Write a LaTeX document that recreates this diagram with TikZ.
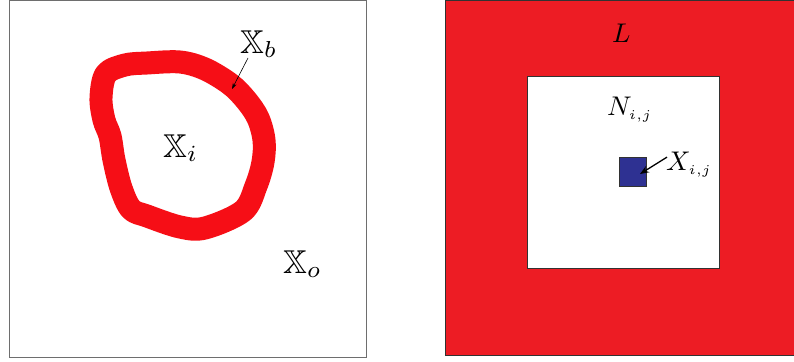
\documentclass[tikz,border=0pt]{standalone}
\usepackage{graphicx}
\usepackage{amssymb}
\usetikzlibrary{arrows.meta}
\definecolor{ringred}{RGB}{246,14,22}
\definecolor{boxred}{RGB}{237,28,36}
\definecolor{boxblue}{RGB}{46,49,146}
\definecolor{edgegray}{RGB}{110,110,110}
\definecolor{edgedark}{RGB}{50,50,50}
\tikzset{
  biglabel/.style={anchor=base west,inner sep=0pt},
  rightlabel/.style={anchor=base west,inner sep=0pt},
  thinarrow/.style={-{Stealth[length=6pt,width=4pt]},line width=0.6pt,black},
  thickarrow/.style={-{Stealth[length=9pt,width=7pt]},line width=1.3pt,black}
}
\begin{document}
\begin{tikzpicture}[x=1pt,y=-1pt]
\useasboundingbox (0,0) rectangle (794,361);
% left panel
\draw[edgegray,line width=1pt] (9.5,0.5) rectangle (366,357);
\draw[ringred,line width=23pt,line join=round]
  plot[smooth cycle,tension=0.55] coordinates{
   (101,98) (106,74) (125,65) (147,63) (180,62) (205,69) (230,84)
   (246,100) (258,118) (264,140) (263,162) (256,186) (243,211)
   (205,228) (180,227) (147,216) (131,209) (121,188) (114,160)
   (110,136) (104,120)};
\node[biglabel] (Xb) at (240,53) {\scalebox{3.3}{$\mathbb{X}_b$}};
\node[biglabel] (Xi) at (163,157) {\scalebox{3.3}{$\mathbb{X}_i$}};
\node[biglabel] (Xo) at (283,273) {\scalebox{3.3}{$\mathbb{X}_o$}};
\coordinate (ringpt) at (232,89);
\draw[thinarrow] (248,58) -- (ringpt);
% right panel
\fill[boxred] (445,0) rectangle (794,356);
\draw[edgedark,line width=1.2pt] (794,0.6) -- (445.6,0.6) -- (445.6,355.6) -- (794,355.6);
\node[draw=edgedark,fill=white,line width=1.2pt,minimum width=192pt,minimum height=192pt,inner sep=0pt] (N) at (623.3,172.3) {};
\node[draw=edgedark,fill=boxblue,line width=1pt,minimum width=27.5pt,minimum height=29pt,inner sep=0pt] (blue) at (633.2,172.3) {};
\node[rightlabel] (L) at (612,43) {\scalebox{2.7}{$L$}};
\node[rightlabel] (Nij) at (607,115) {\scalebox{2.7}{$N_{\scriptscriptstyle i{,}j}$}};
\node[rightlabel] (Xij) at (666,170) {\scalebox{2.7}{$X_{\scriptscriptstyle i{,}j}$}};
\coordinate (bluept) at (640,174);
\draw[thickarrow] (Xij.west) ++(1,-7) -- (bluept);
\end{tikzpicture}
\end{document}
